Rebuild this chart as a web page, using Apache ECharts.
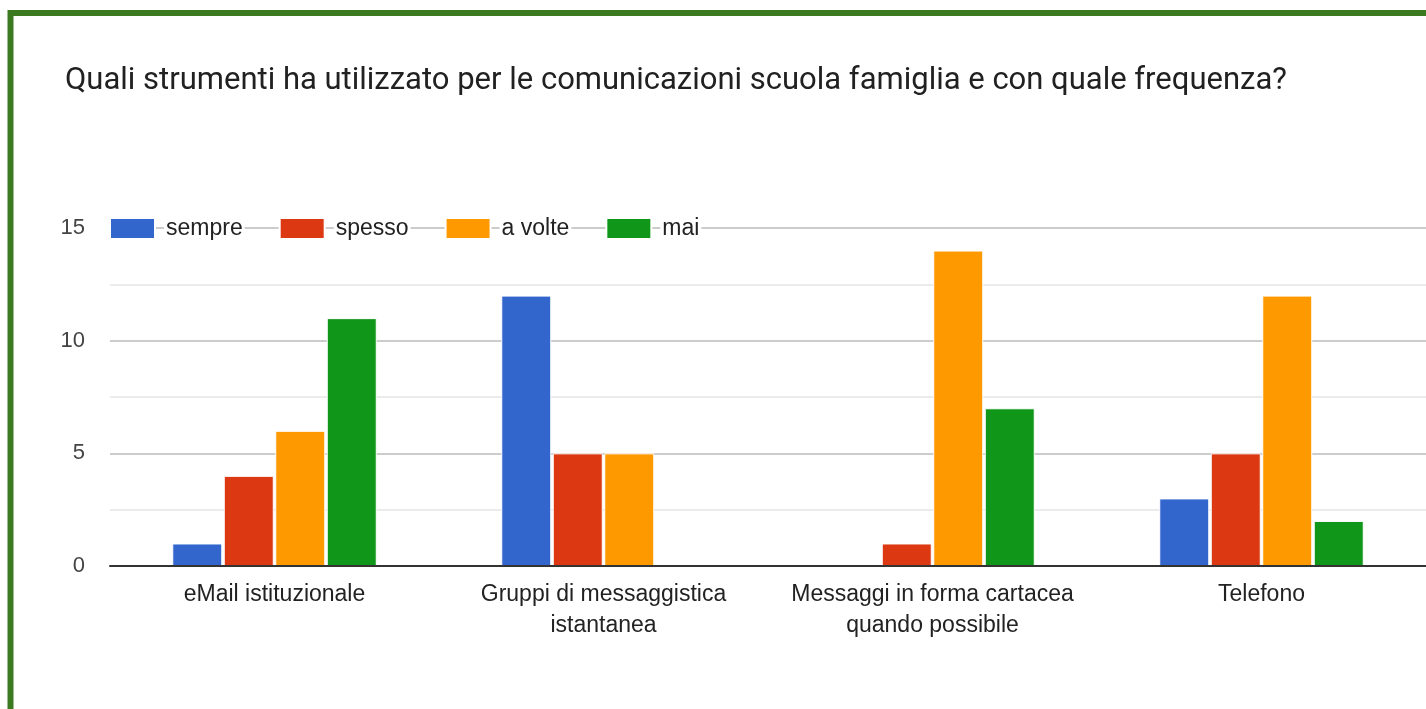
<!DOCTYPE html>
<html>
<head>
<meta charset="utf-8">
<script src="https://cdn.jsdelivr.net/npm/echarts@6/dist/echarts.min.js"></script>
<style>
  html, body { margin: 0; padding: 0; background: #fff; }
  #chart { width: 1426px; height: 709px; }
</style>
</head>
<body>
<div id="chart"></div>
<script>
// dati
var categorie = ['eMail istituzionale', 'Gruppi di messaggistica\nistantanea', 'Messaggi in forma cartacea\nquando possibile', 'Telefono']
var sempre = [1, 12, 0, 3]
var spesso = [4, 5, 1, 5]
var aVolte = [6, 5, 14, 12]
var mai = [11, 0, 7, 2]
var tickY = [0, 5, 10, 15]

var myChart = echarts.init(document.getElementById('chart'))

function serie(nome, dati) {
    return {
        name: nome,
        type: 'bar',
        barWidth: 50,
        barGap: '3%',
        itemStyle: { borderColor: '#fff', borderWidth: 1 },
        data: dati
    }
}

var option = {
    animation: false,
    color: ['#3366cc', '#dc3912', '#ff9900', '#109618'],
    title: {
        text: 'Quali strumenti ha utilizzato per le comunicazioni scuola famiglia e con quale frequenza?',
        left: 60,
        top: 61,
        textStyle: { fontFamily: 'Roboto', fontSize: 31, fontWeight: 'normal', color: '#212121' }
    },
    graphic: [{
        type: 'rect',
        shape: { x: 10.5, y: 13, width: 1600, height: 900 },
        style: { fill: 'none', stroke: '#3b7a21', lineWidth: 6 },
        z: 100
    }],
    legend: {
        left: 109,
        top: 217,
        padding: 0,
        itemWidth: 45,
        itemHeight: 21,
        itemGap: 34,
        icon: 'rect',
        data: ['sempre', 'spesso', 'a volte', 'mai'],
        formatter: function (name) {
            return '{sp|}{t|' + name + '}'
        },
        textStyle: {
            fontFamily: 'Liberation Sans',
            fontSize: 23,
            color: '#222',
            rich: {
                sp: { width: 4 },
                t: {
                    fontFamily: 'Liberation Sans',
                    fontSize: 23,
                    color: '#222',
                    backgroundColor: '#fff',
                    padding: [0, 2]
                }
            }
        }
    },
    grid: {
        left: 110,
        right: -4,
        top: 228,
        bottom: 143
    },
    xAxis: {
        type: 'category',
        data: categorie,
        z: 10,
        axisTick: { show: false },
        axisLine: { lineStyle: { color: '#333', width: 2 } },
        axisLabel: {
            interval: 0,
            margin: 13,
            fontFamily: 'Liberation Sans',
            fontSize: 23,
            color: '#222',
            lineHeight: 31
        }
    },
    yAxis: {
        type: 'value',
        min: 0,
        max: 15,
        interval: 2.5,
        axisLine: { show: false },
        axisTick: { show: false },
        axisLabel: {
            margin: 25,
            fontFamily: 'Liberation Sans',
            fontSize: 22,
            color: '#444',
            formatter: function (v) {
                return tickY.indexOf(v) >= 0 ? String(v) : ''
            }
        },
        splitLine: { lineStyle: { color: ['#cccccc', '#ebebeb'], width: 2 } }
    },
    series: [
        serie('sempre', sempre),
        serie('spesso', spesso),
        serie('a volte', aVolte),
        serie('mai', mai)
    ]
}

myChart.setOption(option)
window.onresize = myChart.resize
</script>
</body>
</html>
